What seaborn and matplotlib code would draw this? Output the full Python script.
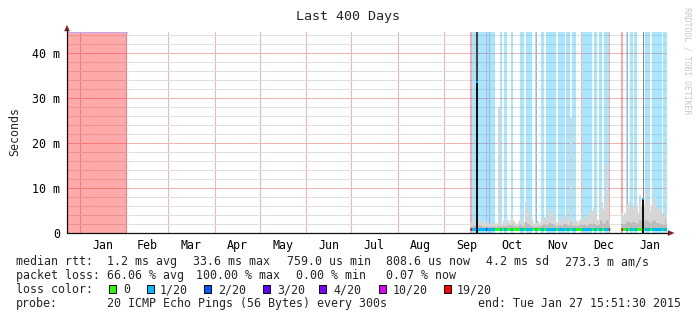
import numpy as np
import pandas as pd
import matplotlib
matplotlib.use("Agg")
import matplotlib.pyplot as plt
import matplotlib.dates as mdates
from matplotlib.patches import Rectangle, Polygon
from matplotlib.lines import Line2D
from matplotlib.ticker import MultipleLocator, FixedLocator, FixedFormatter, FuncFormatter, NullFormatter
import seaborn as sns

# ---------------- data ----------------
title = "Last 400 Days"
y_label = "Seconds"
watermark = "RRDTOOL / TOBI OETIKER"
chart_start = "2013-12-23 15:51:30"
chart_end = "2015-01-27 15:51:30"
y_max_ms = 44.67

# early total outage (100 % loss)
early_loss_start = "2013-12-23 15:51:30"
early_loss_end = "2014-02-01 14:00"

# daily series start here (offsets below are days after this)
data_start = "2014-09-18 00:00"
data_seg_start = [0.0, 101.3]
data_seg_end = [93.8, 131.66]

# loss bands (day offsets) and their loss count out of 20
band_start = [0.0, 1.33, 11.1, 11.8, 20.0, 23.1, 27.6, 33.8, 37.8, 43.6, 47.6, 50.7,
              59.1, 64.5, 68.0, 74.7, 83.1, 86.3, 89.8, 92.9, 101.3, 104.0, 106.7,
              109.8, 117.1, 121.8, 129.3]
band_end = [1.33, 11.1, 11.8, 17.1, 21.8, 25.3, 29.3, 36.0, 41.8, 45.3, 49.8, 57.8,
            63.6, 67.1, 71.1, 81.8, 85.3, 88.5, 92.9, 93.8, 102.3, 105.6, 108.9,
            111.8, 120.0, 128.5, 131.7]
band_loss = [19, 1, 3, 1, 1, 1, 1, 1, 1, 1, 1, 1,
             1, 1, 1, 1, 1, 1, 1, 19, 19, 1, 1,
             1, 1, 1, 1]

loss_labels = ["0", "1/20", "2/20", "3/20", "4/20", "10/20", "19/20"]
loss_counts = [0, 1, 2, 3, 4, 10, 19]
loss_colors = ["#26ff00", "#00b8ff", "#0059ff", "#5e00ff", "#7e00ff", "#dd00ff", "#ff0000"]

nan = np.nan
median_ms = [
    0.90, 0.90, 0.88, 0.90, 0.90, 0.90, 0.92, 0.90, 0.88, 0.88, 0.90, 0.90, 0.88,
    0.88, 0.90, 0.88, 0.90, 0.88, 0.88, 0.90, 0.90, 0.88, 0.90, 0.90, 0.88, 0.92, 0.90, 0.90,
    0.92, 0.90, 0.88, 0.88, 0.90, 0.90, 0.92, 0.90, 0.90, 0.95, 0.92, 0.92, 0.90, 0.90, 0.88, 0.88,
    0.88, 0.90, 0.88, 0.90, 0.90, 0.92, 0.92, 0.90, 0.92, 0.95, 0.92, 0.92, 0.90, 0.90, 0.88,
    0.90, 0.90, 0.88, 0.92, 0.90, 0.92, 0.90, 0.90, 0.92, 0.90, 0.88, 0.90, 0.90, 0.88, 0.90,
    0.92, 0.90, 0.92, 0.90, 0.90, 0.92, 0.95, 0.92, 0.92, 0.92, 0.90, 0.90, 0.92, 0.98, 0.95,
    0.92, 0.95, 1.00, 0.95, 0.90, nan, nan, nan, nan, nan, nan, nan, 0.92, 0.90, 0.92, 0.95,
    0.95, 0.95, 0.92, 0.95, 0.92, 0.92, 0.92, 0.90, 0.98, 0.95, 0.92, 0.95, 1.00, 0.95, 0.95,
    0.92, 0.95, 1.00, 0.98, 0.92, 0.92, 0.90, 0.92, 0.90, 0.90, 1.00, 0.92]

smoke_floor_ms = 0.76
smoke_mid_ms = [
    1.4, 1.5, 1.3, 1.6, 1.5, 1.4, 1.7, 1.6, 1.5, 1.3, 1.4, 1.6, 1.4,
    1.3, 1.5, 1.3, 1.6, 1.4, 1.3, 1.6, 1.5, 1.3, 1.6, 1.5, 1.4, 1.7, 1.5, 1.8, 2.0,
    1.6, 1.4, 1.3, 1.5, 1.7, 1.9, 1.6, 1.5, 2.4, 2.1, 1.9, 1.7, 1.6, 1.4, 1.3,
    1.4, 1.6, 1.3, 1.5, 1.7, 1.9, 1.8, 1.7, 2.1, 2.3, 2.0, 2.1, 1.8, 1.5, 1.4,
    1.7, 1.8, 1.5, 2.0, 1.9, 2.0, 1.7, 1.6, 2.2, 1.7, 1.5, 1.8, 1.6, 1.5, 1.7,
    2.0, 1.8, 2.0, 1.7, 1.6, 1.9, 2.3, 2.1, 2.2, 2.0, 1.8, 1.7, 1.9, 2.8, 2.4,
    2.1, 2.3, 3.0, 2.6, 1.7, nan, nan, nan, nan, nan, nan, nan, 2.0, 1.9, 2.0, 2.6,
    2.5, 2.6, 2.3, 2.5, 2.4, 2.2, 2.3, 2.0, 2.8, 2.4, 2.2, 2.4, 2.9, 2.6, 2.5,
    2.1, 2.4, 3.0, 2.7, 2.3, 2.2, 2.0, 2.1, 1.9, 1.8, 3.2, 2.0]
smoke_max_ms = [
    2.2, 2.4, 2.0, 2.6, 2.5, 2.2, 3.0, 2.8, 2.5, 2.0, 2.3, 2.6, 2.2,
    2.0, 2.4, 1.9, 2.5, 2.2, 2.0, 28.0, 2.3, 2.0, 2.6, 2.4, 2.1, 2.8, 2.3, 3.0, 4.4,
    2.6, 2.2, 2.0, 2.5, 3.0, 4.0, 2.7, 2.4, 7.0, 5.6, 4.7, 3.4, 2.9, 2.3, 2.1,
    2.2, 2.6, 2.0, 2.4, 2.8, 3.6, 3.4, 3.0, 4.7, 5.8, 4.2, 5.0, 3.2, 2.5, 2.2,
    2.8, 3.3, 2.5, 4.4, 3.8, 4.4, 2.9, 2.6, 25.5, 2.8, 2.4, 3.0, 2.6, 2.3, 2.8,
    4.4, 3.6, 4.4, 3.2, 2.8, 4.0, 5.8, 5.0, 5.5, 4.6, 3.5, 3.0, 4.2, 9.6, 7.0,
    5.3, 6.0, 15.2, 8.9, 3.0, nan, nan, nan, nan, nan, nan, nan, 4.4, 3.8, 4.4, 7.0,
    6.5, 7.0, 5.8, 6.8, 6.3, 5.2, 6.0, 4.5, 8.5, 6.0, 5.0, 6.2, 9.3, 7.5, 6.8,
    5.0, 6.2, 10.0, 8.0, 6.0, 5.5, 4.8, 5.2, 4.4, 3.8, 19.0, 5.0]

# two dense-smoke spikes (day offsets)
spike_start = [4.0, 114.9]
spike_end = [5.4, 116.3]
spike_median_ms = [33.6, 7.5]
spike_upper_start = [4.0, 115.4]
spike_upper_end = [5.4, 116.1]
spike_top_ms = [50.0, 50.0]

stat_rows = [
    [("median rtt:", 16), ("1.2 ms avg", 107), ("33.6 ms max", 193), ("759.0 us min", 287),
     ("808.6 us now", 386), ("4.2 ms sd", 486), ("273.3 m am/s", 565)],
    [("packet loss:", 16), ("66.06 % avg", 107), ("100.00 % max", 196), ("0.00 % min", 296),
     ("0.07 % now", 386)],
    [("loss color:", 16)],
    [("probe:", 16), ("20 ICMP Echo Pings (56 Bytes) every 300s", 107),
     ("end: Tue Jan 27 15:51:30 2015", 478)],
]
row_baselines = [265.3, 279.3, 293.3, 306.7]
swatch_x = [109, 147, 204, 263, 319, 379, 444]
swatch_label_x = [123, 160, 218, 277, 333, 393, 457]

# ---------------- drawing ----------------
W, H = 697, 321
sns.set_style("white")
plt.rcParams['font.family'] = ['DejaVu Sans Mono', 'DejaVu Sans']
FS = 8.4

def fx(px):
    return px / W

def fy(py):
    return 1 - py / H

fig = plt.figure(figsize=(W / 100, H / 100), dpi=100)
fig.patch.set_facecolor("white")
ax = fig.add_axes([67 / W, 1 - 233 / H, 600 / W, 201 / H])
ax.set_facecolor("white")

xs0 = mdates.date2num(pd.Timestamp(chart_start))
xs1 = mdates.date2num(pd.Timestamp(chart_end))
x0 = mdates.date2num(pd.Timestamp(data_start))
ax.set_xlim(xs0, xs1)
ax.set_ylim(0, y_max_ms)
for sp in ax.spines.values():
    sp.set_visible(False)

color_of = dict(zip(loss_counts, loss_colors))
MGRID = "#f3b4b4"

# grid
ax.yaxis.set_major_locator(MultipleLocator(10))
ax.yaxis.set_minor_locator(MultipleLocator(2))
ax.yaxis.set_major_formatter(FuncFormatter(lambda v, p: "0" if v == 0 else f"{v:.0f} m"))
ax.xaxis.set_major_locator(mdates.MonthLocator())
ax.xaxis.set_major_formatter(NullFormatter())
months = pd.date_range("2014-01-01", "2015-02-01", freq="MS")
centers = [mdates.date2num(a + (b - a) / 2) for a, b in zip(months[:-1], months[1:])]
month_labels = [m.strftime("%b") for m in months[:-1]]
ax.xaxis.set_minor_locator(FixedLocator(centers))
ax.xaxis.set_minor_formatter(FixedFormatter(month_labels))
ax.set_axisbelow(True)
ax.grid(which="minor", axis="y", color="#e0e0e0", lw=0.75)
ax.grid(which="major", axis="y", color=MGRID, lw=0.75)
ax.grid(which="major", axis="x", color=MGRID, lw=0.75)
ax.tick_params(axis="y", which="major", length=2, width=0.75, color="#b08080", pad=3,
               labelsize=FS, labelcolor="black")
ax.tick_params(axis="y", which="minor", length=0)
ax.tick_params(axis="x", which="major", length=3, width=0.75, color="#e0a0a0")
ax.tick_params(axis="x", which="minor", length=0, pad=4, labelsize=FS, labelcolor="black")

# loss backgrounds
ax.axvspan(mdates.date2num(pd.Timestamp(early_loss_start)),
           mdates.date2num(pd.Timestamp(early_loss_end)),
           color="#ff0000", alpha=0.333, lw=0, zorder=1, antialiased=False)
ax.plot([mdates.date2num(pd.Timestamp(early_loss_start)),
         mdates.date2num(pd.Timestamp(early_loss_end))], [y_max_ms - 0.1] * 2,
        color="#c8a8ee", lw=0.8, zorder=1.2)
for s, e, l in zip(band_start, band_end, band_loss):
    ax.axvspan(x0 + s, x0 + e, color=color_of[l], alpha=0.333, lw=0, zorder=1,
               antialiased=False)

# smoke
med = np.array(median_ms, dtype=float)
smid = np.array(smoke_mid_ms, dtype=float)
smax = np.array(smoke_max_ms, dtype=float)
days = np.arange(len(smax))
for s, e in zip(data_seg_start, data_seg_end):
    sel = (days + 1 > s) & (days < e) & ~np.isnan(smax)
    left = np.maximum(days[sel], s)
    right = np.minimum(days[sel] + 1, e)
    ax.bar(x0 + left, smax[sel] - smoke_floor_ms, bottom=smoke_floor_ms, width=right - left,
           align="edge", color="#d6d6d6", lw=0, zorder=2, antialiased=False)
    ax.bar(x0 + left, smid[sel] - smoke_floor_ms, bottom=smoke_floor_ms, width=right - left,
           align="edge", color="#bcbcbc", lw=0, zorder=2.1, antialiased=False)

# median line (green, then loss-coloured parts)
segments = []
for s, e in zip(data_seg_start, data_seg_end):
    d = np.arange(int(np.floor(s)), int(np.ceil(e)))
    xs = np.append(np.maximum(d, s), e)
    ys = np.append(med[d], med[d[-1]])
    segments.append((x0 + xs, ys))
    sns.lineplot(x=x0 + xs, y=ys, ax=ax, color=color_of[0], lw=2.1, drawstyle="steps-post",
                 estimator=None, sort=False, zorder=3, solid_capstyle="butt")
for s, e, l in zip(band_start, band_end, band_loss):
    for xs, ys in segments:
        ln, = ax.plot(xs, ys, color=color_of[l], lw=2.1, drawstyle="steps-post", zorder=3.1,
                      solid_capstyle="butt")
        ln.set_clip_path(Rectangle((x0 + s, -100), e - s, 300, transform=ax.transData))

# spikes
upper_colors = ["#444444", "#888888"]
for i in range(len(spike_start)):
    ax.bar(x0 + spike_upper_start[i], spike_top_ms[i] - spike_median_ms[i],
           bottom=spike_median_ms[i], width=spike_upper_end[i] - spike_upper_start[i],
           align="edge", color=upper_colors[i], lw=0, zorder=4, antialiased=False)
    ax.bar(x0 + spike_start[i], spike_median_ms[i], bottom=0,
           width=spike_end[i] - spike_start[i], align="edge", color="#111111", lw=0,
           zorder=4, antialiased=False)
    ax.plot([x0 + spike_start[i], x0 + spike_end[i]], [spike_median_ms[i]] * 2,
            color=color_of[1], lw=1.2, zorder=4.2, solid_capstyle="butt")

# axes with arrows
AX = "#111111"
ARROW = "#7f1f1f"
fig.add_artist(Line2D([fx(67), fx(668)], [fy(233), fy(233)], color=AX, lw=0.9))
fig.add_artist(Line2D([fx(67), fx(67)], [fy(233), fy(30)], color=AX, lw=0.9))
fig.add_artist(Polygon([[fx(668), fy(230.5)], [fx(674), fy(233)], [fx(668), fy(235.5)]],
                       closed=True, facecolor=ARROW, edgecolor=ARROW, lw=0.3,
                       transform=fig.transFigure))
fig.add_artist(Polygon([[fx(64.5), fy(31)], [fx(67), fy(25.5)], [fx(69.5), fy(31)]],
                       closed=True, facecolor=ARROW, edgecolor=ARROW, lw=0.3,
                       transform=fig.transFigure))

# texts
fig.text(fx(348.3), fy(20), title, ha="center", va="baseline", fontsize=9.6)
fig.text(fx(14.5), fy(131.5), y_label, rotation=90, ha="center", va="center", fontsize=FS)
fig.text(fx(686.5), fy(61), watermark, rotation=270, ha="center", va="center",
         fontsize=5.9, color="#c8c8c8")

for row, base in zip(stat_rows, row_baselines):
    for txt, px in row:
        fig.text(fx(px), fy(base), txt, ha="left", va="baseline", fontsize=FS)
for px, lx, lab, col in zip(swatch_x, swatch_label_x, loss_labels, loss_colors):
    fig.add_artist(Rectangle((fx(px), fy(293.3)), 7.3 / W, 8 / H, facecolor=col,
                             edgecolor="black", lw=0.7, transform=fig.transFigure))
    fig.text(fx(lx), fy(row_baselines[2]), lab, ha="left", va="baseline", fontsize=FS)

fig.savefig("out.png", dpi=100, facecolor="white")
